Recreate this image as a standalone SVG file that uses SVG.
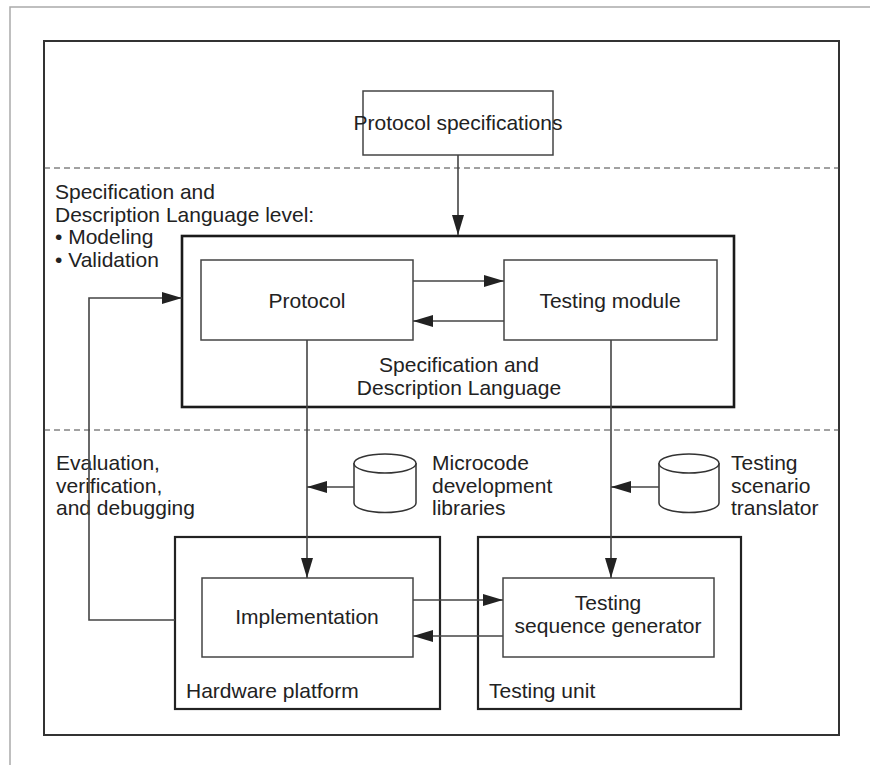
<svg xmlns="http://www.w3.org/2000/svg" width="870" height="765" viewBox="0 0 870 765">
  <defs>
    <marker id="arrow" viewBox="0 0 20 12" refX="20" refY="6" markerWidth="20" markerHeight="12" markerUnits="userSpaceOnUse" orient="auto">
      <path d="M0,0 L20,6 L0,12 Z" fill="#222"/>
    </marker>
    <style>
      text { font-family: "Liberation Sans", Arial, Helvetica, sans-serif; font-size: 21px; fill: #222; }
      .mid { text-anchor: middle; }
      .frame-outer { fill: none; stroke: #aaa; stroke-width: 1.5; }
      .frame-inner { fill: none; stroke: #333; stroke-width: 2; }
      .level { fill: none; stroke: #444; stroke-width: 1; stroke-dasharray: 6 4; }
      .box { fill: #fff; stroke: #444; stroke-width: 1.5; }
      .group { fill: none; stroke: #222; stroke-width: 2.2; }
      .sdl { fill: none; stroke: #1a1a1a; stroke-width: 2.6; }
      .link { fill: none; stroke: #444; stroke-width: 1.6; }
      .arr { marker-end: url(#arrow); }
      .db { fill: #fff; stroke: #333; stroke-width: 1.5; }
    </style>
  </defs>

  <rect width="870" height="765" fill="#fff"/>

  <!-- frames -->
  <path class="frame-outer" d="M10,765 V7 H870"/>
  <rect class="frame-inner" x="44" y="41" width="795" height="694"/>

  <!-- level separators -->
  <line class="level" x1="44" y1="168" x2="839" y2="168"/>
  <line class="level" x1="44" y1="430" x2="839" y2="430"/>

  <!-- level captions -->
  <g id="sdl-level-label">
    <text x="55" y="199">Specification and</text>
    <text x="55" y="222">Description Language level:</text>
    <text x="55" y="244">• Modeling</text>
    <text x="55" y="267">• Validation</text>
  </g>
  <g id="evaluation-label">
    <text x="56" y="470">Evaluation,</text>
    <text x="56" y="493">verification,</text>
    <text x="56" y="515">and debugging</text>
  </g>

  <!-- nodes -->
  <g id="protocol-specifications">
    <rect class="box" x="363" y="91" width="190" height="64"/>
    <text class="mid" x="458" y="130">Protocol specifications</text>
  </g>

  <g id="sdl">
    <rect class="sdl" x="182" y="236" width="552" height="171"/>
    <text class="mid" x="459" y="372">Specification and</text>
    <text class="mid" x="459" y="395">Description Language</text>
  </g>

  <g id="protocol">
    <rect class="box" x="201" y="260" width="212" height="80"/>
    <text class="mid" x="307" y="308">Protocol</text>
  </g>

  <g id="testing-module">
    <rect class="box" x="504" y="260" width="213" height="80"/>
    <text class="mid" x="610" y="308">Testing module</text>
  </g>

  <g id="microcode-libraries">
    <path class="db" d="M354,463 V503 A31,9.5 0 0 0 416,503 V463"/>
    <ellipse class="db" cx="385" cy="463.5" rx="31" ry="9.5"/>
    <text x="432" y="470">Microcode</text>
    <text x="432" y="493">development</text>
    <text x="432" y="515">libraries</text>
  </g>

  <g id="scenario-translator">
    <path class="db" d="M659,463 V503 A30,9.5 0 0 0 719,503 V463"/>
    <ellipse class="db" cx="689" cy="463.5" rx="30" ry="9.5"/>
    <text x="731" y="470">Testing</text>
    <text x="731" y="493">scenario</text>
    <text x="731" y="515">translator</text>
  </g>

  <g id="hardware-platform">
    <rect class="group" x="175" y="537" width="265" height="172"/>
    <text x="186" y="698">Hardware platform</text>
  </g>

  <g id="implementation">
    <rect class="box" x="202" y="578" width="211" height="79"/>
    <text class="mid" x="307" y="624">Implementation</text>
  </g>

  <g id="testing-unit">
    <rect class="group" x="478" y="537" width="263" height="172"/>
    <text x="489" y="698">Testing unit</text>
  </g>

  <g id="sequence-generator">
    <rect class="box" x="503" y="578" width="211" height="79"/>
    <text class="mid" x="608" y="610">Testing</text>
    <text class="mid" x="608" y="633">sequence generator</text>
  </g>

  <!-- connectors -->
  <g id="connectors">
    <line class="link arr" x1="458" y1="155" x2="458" y2="235"/>
    <line class="link arr" x1="413" y1="281" x2="504" y2="281"/>
    <line class="link arr" x1="504" y1="321" x2="413" y2="321"/>
    <line class="link arr" x1="307" y1="340" x2="307" y2="578"/>
    <line class="link arr" x1="611" y1="340" x2="611" y2="578"/>
    <line class="link arr" x1="354" y1="487" x2="307" y2="487"/>
    <line class="link arr" x1="659" y1="487" x2="611" y2="487"/>
    <line class="link arr" x1="413" y1="600" x2="503" y2="600"/>
    <line class="link arr" x1="503" y1="636" x2="413" y2="636"/>
    <polyline class="link arr" points="175,620 89,620 89,298 182,298"/>
  </g>
</svg>
